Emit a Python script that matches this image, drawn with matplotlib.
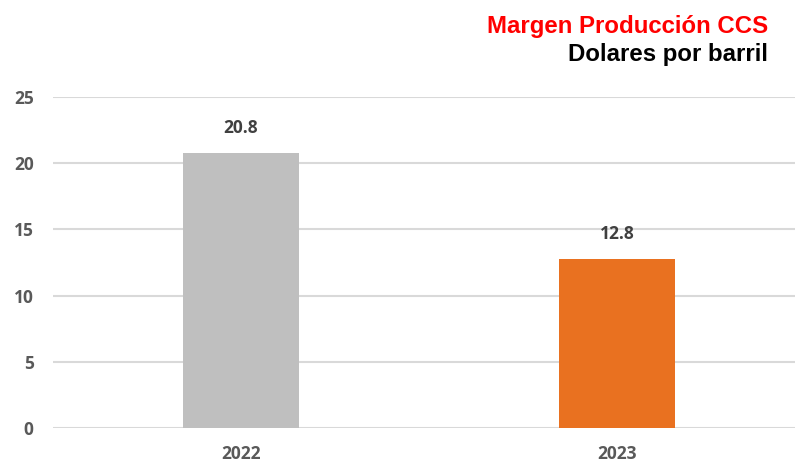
import matplotlib.pyplot as plt

# Data
years = ["2022", "2023"]
margins = [20.8, 12.8]
bar_colors = ["#BFBFBF", "#E97120"]

fig = plt.figure(figsize=[7.95, 4.63], dpi=100)
ax = fig.add_axes([53 / 795, 35 / 463, 742 / 795, 331 / 463])

x = range(len(years))
bars = ax.bar(x, margins, width=0.31, color=bar_colors, zorder=3)

for b, v in zip(bars, margins):
    ax.annotate(f"{v:.1f}", (b.get_x() + b.get_width() / 2, v),
                xytext=(0, 11), textcoords="offset points",
                ha="center", va="bottom", fontsize=12.5, fontweight="bold",
                color="#404040", family="Open Sans")

ax.set_xlim(-0.5, 1.473)
ax.set_ylim(0, 25)
ax.set_yticks([0, 5, 10, 15, 20, 25])
ax.set_xticks(list(x))
ax.set_xticklabels(years)
ax.yaxis.grid(True, color="#D9D9D9", linewidth=1.5, zorder=0)
for s in ax.spines.values():
    s.set_visible(False)
ax.tick_params(length=0, labelsize=12.5, labelcolor="#595959")
ax.tick_params(axis="y", pad=14)
ax.tick_params(axis="x", pad=12)
for lbl in ax.get_xticklabels() + ax.get_yticklabels():
    lbl.set_fontweight("bold")
    lbl.set_family("Open Sans")

fig.text(768 / 795, 1 - 27 / 463, "Margen Producción CCS", ha="right", va="center",
         fontsize=17.3, fontweight="bold", color="#FF0000", family="Liberation Sans")
fig.text(768 / 795, 1 - 55 / 463, "Dolares por barril", ha="right", va="center",
         fontsize=17.3, fontweight="bold", color="#000000", family="Liberation Sans")

fig.savefig("out.png", dpi=100)
